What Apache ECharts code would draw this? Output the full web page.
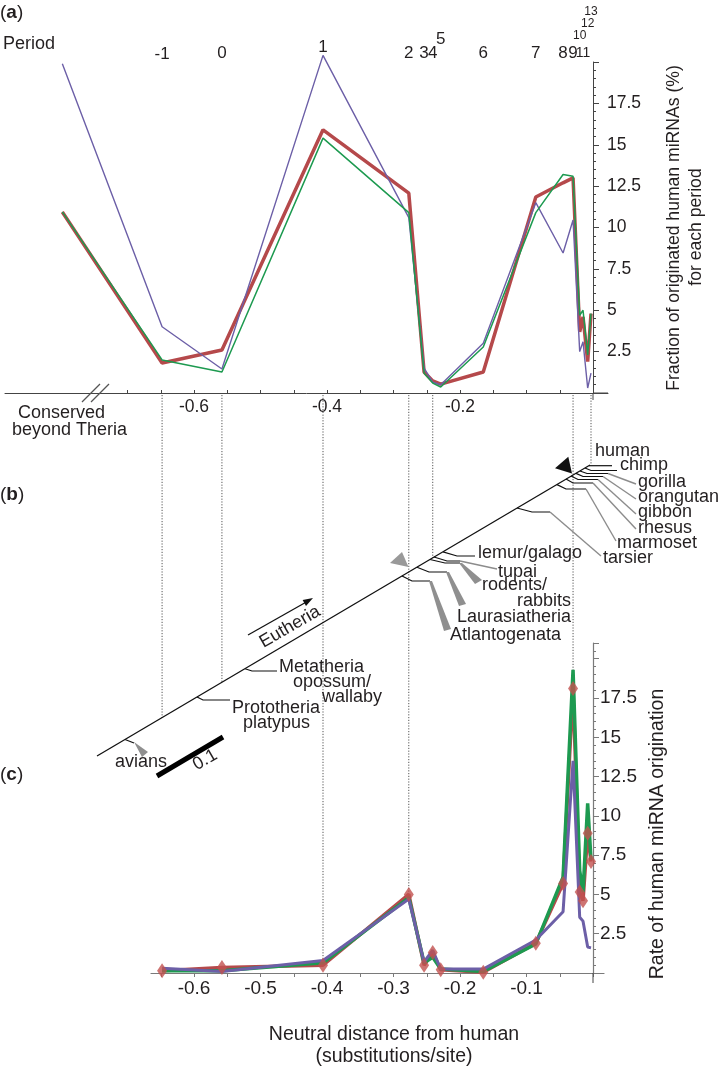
<!DOCTYPE html>
<html><head><meta charset="utf-8">
<script src="https://cdn.jsdelivr.net/npm/echarts@6/dist/echarts.min.js"></script>
<style>html,body{margin:0;padding:0;background:#fff}#c{width:718px;height:1068px}</style>
</head><body><div id="c"></div>
<script>
const FONT = "'Liberation Sans', Arial, Helvetica, sans-serif";
const TXT = '#231f20';
const RED = '#b5494b', GREEN = '#1d9a50', PURPLE = '#6c5fa7', DIAMOND = '#c2514f';

// ---------- data ----------
const periodNames = ['Conserved','-1','0','1','2','3','4','5','6','7','8','9','10','11','12','13'];
const periodDist  = [-0.798,-0.648,-0.558,-0.406,-0.277,-0.254,-0.241,-0.229,-0.165,-0.086,-0.045,-0.030,-0.020,-0.015,-0.008,-0.003];
// (a) fraction of originated human miRNAs (%) per period
const fracRed    = [10.94,1.81,2.6,15.9,12.08,1.27,0.73,0.54,1.27,11.84,12.7,13.0,3.7,4.6,1.9,4.8];
const fracGreen  = [10.94,2.0,1.27,15.4,10.9,1.2,0.6,0.36,2.78,10.9,13.2,13.1,4.7,5.0,2.3,4.8];
const fracPurple = [19.9,4.0,1.45,20.4,10.6,1.5,0.66,0.5,3.0,11.5,8.46,10.45,2.5,3.1,0.3,1.2];
// (c) rate of human miRNA origination, periods -1 .. 13
const rateRed    = [0.15,0.35,0.5,5.0,0.5,1.3,0.2,0.05,1.9,5.7,18.1,5.15,4.6,8.9,7.1];
const rateGreen  = [0.15,0.15,0.65,4.8,0.65,1.0,0.25,0.1,1.85,6.1,19.3,6.5,5.15,10.8,7.2];
const ratePurple = [0.3,0.1,0.8,4.7,0.7,1.45,0.25,0.25,2.1,3.9,13.5,3.55,3.3,1.65,1.6];

// tick labels
const xTicksA  = [-0.7,-0.65,-0.6,-0.55,-0.5,-0.45,-0.4,-0.35,-0.3,-0.25,-0.2,-0.15,-0.1,-0.05,0];
const xLabelsA = [-0.6,-0.4,-0.2];
const xTicksC  = [-0.65,-0.6,-0.55,-0.5,-0.45,-0.4,-0.35,-0.3,-0.25,-0.2,-0.15,-0.1,-0.05,0];
const xLabelsC = [-0.6,-0.5,-0.4,-0.3,-0.2,-0.1];
const yLabelsA = [2.5,5,7.5,10,12.5,15,17.5];
const yLabelsC = [2.5,5,7.5,10,12.5,15,17.5];

// period labels above (a): y in layout units, font size
const periodLabelY    = [null,54,53,47,53,53,53,39,53,53,53,53,36,53,24,12];
const periodLabelSize = [0,17,17,17,17,17,17,17,17,17,17,17,12,14,12,12];

// dotted guide lines: which periods, and where they stop (layout units)
const dottedPeriods = ['-1','0','1','2','4','9','13'];
const dottedEnd     = [718,682,961,894,558,670,464];

// ---------- tree (panel b), layout units ----------
const treeTrunk = [[[97,756],[590,465]]];
const treeBlack = [
  [[125,739.5],[134,743]],
  [[197,697],[203,700],[230,700]],
  [[245,668.7],[252,671],[277,671]],
  [[402,576],[412,581],[430,581]],
  [[417,567.2],[429,572],[447,572]],
  [[430,559.5],[445,563],[460,563]],
  [[434,557],[447,561],[460,561]],
  [[443,551.9],[457,556],[475,556]],
  [[517,508],[532,512],[550,512]],
  [[557,484.6],[566,489],[586,489]],
  [[566,479],[573,483],[593,483]],
  [[571,476],[578,479.5],[598,479.5]],
  [[576,473.4],[583,476.5],[603,476.5]],
  [[580,471],[587,473.5],[608,473.5]],
  [[585,468],[591,470.5],[617,470.5]],
  [[589,465.7],[612,465.7]]
];
const treeGray = [
  [[460,561],[497,569]],
  [[550,512],[601,556]],
  [[586,489],[616,541]],
  [[593,483],[636,529]],
  [[598,479.5],[636,514]],
  [[603,476.5],[636,499]],
  [[608,473.5],[636,484]]
];
const treeWedges = [
  [[134,742],[148,752],[142,757]],
  [[429,581],[432,581],[451,629],[444,631]],
  [[446,572],[449,572],[466,604],[459,606]],
  [[459,563],[462,563],[482,580],[475,584]]
];
const treeMarkers = [
  {pts:[[402,552],[390,563],[408.5,567]], color:'#999999'},
  {pts:[[568.3,456.7],[555,468.3],[572,473.5]], color:'#111111'},
  {pts:[[313,598],[306,606],[302.6,599.9]], color:'#111111'}
];
const eutheriaArrow = [[[248,635],[309,600.5]]];
const scaleBar = [[[157,776],[223,737]]];
const breakMarks = [[[82,402],[100,384]],[[91,402],[109,384]]];
const axisExtensions = [[[593,393],[593,400]],[[593,973],[593,983]],[[593,393],[608,393]]];

// ---------- texts (layout units) : [text, x, y, align, size, rotationDeg] ----------
const treeLabels = [
  ['human',595,451],['chimp',620,465],['gorilla',638,482],['orangutan',638,497],['gibbon',638,512],
  ['rhesus',638,528],['marmoset',617,543],['tarsier',603,558],
  ['lemur/galago',478,553],['tupai',498,572],['rodents/',482,585],['rabbits',517,601],
  ['Laurasiatheria',457,617],['Atlantogenata',450,635],
  ['Metatheria',279,667],['opossum/',293,682],['wallaby',322,697],
  ['Prototheria',232,708],['platypus',243,723],['avians',115,762]
];
const otherTexts = [
  ['Period',3,44,'left',18,0],
  ['Conserved',18,413,'left',18,0],
  ['beyond Theria',12,430,'left',18,0],
  ['Fraction of originated human miRNAs (%)',674,228,'center',17.6,90],
  ['for each period',696,227,'center',17.6,90],
  ['Rate of human miRNA origination',658,834,'center',19.5,90],
  ['Neutral distance from human',394,1035,'center',19.5,0],
  ['(substitutions/site)',394,1057,'center',19.5,0],
  ['Eutheria',290,627,'center',18,30],
  ['0.1',205,760,'center',18,30]
];
const panelLetters = [['a',0,13],['b',0,495],['c',0,775]];

// ---------- helpers ----------
const zip = (xs, ys) => xs.map((x,i)=>[x, ys[i]]);
const distC = periodDist.slice(1);

function polySeries(list, style, xIdx, z, closed){
  return {type:'custom', xAxisIndex:xIdx, yAxisIndex:0, z:z, silent:true,
    data: list.map(p=>p[0]),
    renderItem:(params, api)=>{
      const pts = list[params.dataIndex].map(q=>api.coord(q));
      return {type: closed?'polygon':'polyline', shape:{points:pts}, style: Object.assign({}, style)};
    }};
}
function textSeries(list, xIdx, z){
  return {type:'custom', xAxisIndex:xIdx, yAxisIndex:0, z:z, silent:true,
    data: list.map(t=>[t[1],t[2]]),
    renderItem:(params, api)=>{
      const t = list[params.dataIndex];
      const p = api.coord([t[1],t[2]]);
      return {type:'text', x:p[0], y:p[1], rotation:(t[5]||0)*Math.PI/180,
        style:{text:t[0], fontSize:t[4]||17, fontFamily:FONT, fill:TXT,
               align:t[3]||'left', verticalAlign:'middle'}};
    }};
}

const dottedLines = dottedPeriods.map((name,i)=>{
  const d = periodDist[periodNames.indexOf(name)];
  return [[d,395],[d,dottedEnd[i]]];
});
const periodTexts = periodNames.slice(1).map((n,i)=>[n, periodDist[i+1], periodLabelY[i+1], 'center', periodLabelSize[i+1], 0]);

const chart = echarts.init(document.getElementById('c'), null, {renderer:'canvas'});

const axA = '#444444', axC = '#7a7a7a';
const option = {
  animation:false,
  backgroundColor:'#ffffff',
  textStyle:{fontFamily:FONT},
  grid:[
    {left:0, top:0, width:718, height:1068},
    {left:5, top:62, width:603, height:331},
    {left:151, top:643, width:453, height:330}
  ],
  xAxis:[
    {gridIndex:0, type:'value', min:-593/665, max:125/665, show:false, axisLine:{onZero:false}},
    {gridIndex:0, type:'value', min:0, max:718, show:false, position:'top', axisLine:{onZero:false}},
    {gridIndex:1, type:'value', min:-0.884211, max:0.022556,
      axisLine:{show:true, onZero:true, lineStyle:{color:axA, width:1}},
      axisTick:{show:true, customValues:xTicksA, inside:true, length:3, lineStyle:{color:axA}},
      axisLabel:{customValues:xLabelsA, color:TXT, fontSize:17.5, fontFamily:FONT, margin:5, formatter:v=>v.toFixed(1)},
      splitLine:{show:false}},
    {gridIndex:2, type:'value', min:-0.664662, max:0.016541,
      axisLine:{show:true, onZero:true, lineStyle:{color:axC, width:1.2}},
      axisTick:{show:true, customValues:xTicksC, inside:false, length:4, lineStyle:{color:axC}},
      axisLabel:{customValues:xLabelsC, color:TXT, fontSize:19, fontFamily:FONT, margin:6, formatter:v=>v.toFixed(1)},
      splitLine:{show:false}}
  ],
  yAxis:[
    {gridIndex:0, type:'value', min:0, max:1068, inverse:true, show:false, axisLine:{onZero:false}},
    {gridIndex:1, type:'value', min:0, max:20, interval:2.5, position:'right',
      axisLine:{show:true, onZero:true, lineStyle:{color:axA, width:1}},
      axisTick:{show:true, length:6, lineStyle:{color:axA}},
      minorTick:{show:true, splitNumber:5, length:3, lineStyle:{color:axA}},
      axisLabel:{customValues:yLabelsA, color:TXT, fontSize:17.5, fontFamily:FONT, margin:-1},
      splitLine:{show:false}},
    {gridIndex:2, type:'value', min:0, max:21, interval:2.5, position:'right',
      axisLine:{show:true, onZero:true, lineStyle:{color:axC, width:1.2}},
      axisTick:{show:true, length:6, lineStyle:{color:axC}},
      minorTick:{show:true, splitNumber:5, length:3, lineStyle:{color:axC}},
      axisLabel:{customValues:yLabelsC, color:TXT, fontSize:19, fontFamily:FONT, margin:-4},
      splitLine:{show:false}}
  ],
  series:[
    // overlay decorations
    polySeries(dottedLines, {stroke:'#555', lineWidth:1, lineDash:[1.2,1.6], fill:null}, 0, 1, false),
    polySeries(axisExtensions, {stroke:axA, lineWidth:1, fill:null}, 1, 2, false),
    polySeries(breakMarks, {stroke:'#555', lineWidth:1.2, fill:null}, 1, 2, false),
    polySeries(treeTrunk, {stroke:'#111', lineWidth:1.3, fill:null}, 1, 2, false),
    polySeries(treeBlack, {stroke:'#111', lineWidth:1.2, fill:null}, 1, 2, false),
    polySeries(treeGray, {stroke:'#8c8c8c', lineWidth:1.4, fill:null}, 1, 2, false),
    polySeries(treeWedges, {fill:'#8f8f8f', stroke:null}, 1, 2, true),
    polySeries(eutheriaArrow, {stroke:'#111', lineWidth:1.3, fill:null}, 1, 2, false),
    polySeries(scaleBar, {stroke:'#000', lineWidth:5, fill:null}, 1, 2, false),
    {type:'custom', xAxisIndex:1, yAxisIndex:0, z:2, silent:true,
      data: treeMarkers.map(m=>m.pts[0]),
      renderItem:(params, api)=>{
        const m = treeMarkers[params.dataIndex];
        return {type:'polygon', shape:{points:m.pts.map(q=>api.coord(q))}, style:{fill:m.color}};
      }},
    textSeries(treeLabels.map(t=>[t[0],t[1],t[2],'left',18,0]), 1, 5),
    textSeries(otherTexts, 1, 5),
    textSeries(periodTexts, 0, 5),
    {type:'custom', xAxisIndex:1, yAxisIndex:0, z:5, silent:true,
      data: panelLetters.map(t=>[t[1],t[2]]),
      renderItem:(params, api)=>{
        const t = panelLetters[params.dataIndex];
        const p = api.coord([t[1],t[2]]);
        return {type:'text', x:p[0], y:p[1], style:{text:'{n|(}{b|'+t[0]+'}{n|)}', align:'left', verticalAlign:'middle',
          rich:{n:{fontSize:19, fontFamily:FONT, fill:TXT}, b:{fontSize:19, fontFamily:FONT, fontWeight:'bold', fill:TXT}}}};
      }},
    // (a) fractions
    {name:'fracRed', type:'line', xAxisIndex:2, yAxisIndex:1, data:zip(periodDist, fracRed), symbol:'none', clip:false, z:3,
      lineStyle:{color:RED, width:3.5}},
    {name:'fracPurple', type:'line', xAxisIndex:2, yAxisIndex:1, data:zip(periodDist, fracPurple), symbol:'none', clip:false, z:3,
      lineStyle:{color:PURPLE, width:1.4}},
    {name:'fracGreen', type:'line', xAxisIndex:2, yAxisIndex:1, data:zip(periodDist, fracGreen), symbol:'none', clip:false, z:3,
      lineStyle:{color:GREEN, width:1.5}},
    // (c) rates
    {name:'rateRed', type:'line', xAxisIndex:3, yAxisIndex:2, data:zip(distC, rateRed), symbol:'none', clip:false, z:3,
      lineStyle:{color:RED, width:3.5}},
    {name:'rateGreen', type:'line', xAxisIndex:3, yAxisIndex:2, data:zip(distC, rateGreen), symbol:'none', clip:false, z:3,
      lineStyle:{color:GREEN, width:3.5}},
    {name:'ratePurple', type:'line', xAxisIndex:3, yAxisIndex:2, data:zip(distC, ratePurple), symbol:'none', clip:false, z:3,
      lineStyle:{color:PURPLE, width:3}},
    {name:'rateRedPts', type:'scatter', xAxisIndex:3, yAxisIndex:2, data:zip(distC, rateRed), symbol:'diamond', symbolSize:[10,15], z:4,
      itemStyle:{color:DIAMOND}}
  ]
};
chart.setOption(option);
</script>
</body></html>
